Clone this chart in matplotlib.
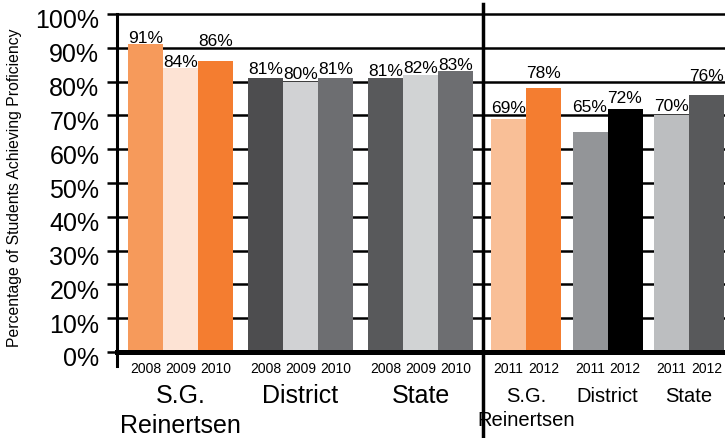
import matplotlib
matplotlib.use("Agg")
import matplotlib.pyplot as plt
from matplotlib.lines import Line2D
from matplotlib.transforms import ScaledTranslation

plt.rcParams['font.family'] = ['Liberation Sans', 'DejaVu Sans']

# ---------------- data ----------------
groups = ["S.G.\nReinertsen", "District", "State"]
years_left = ["2008", "2009", "2010"]
sg_left = [91, 84, 86]
district_left = [81, 80, 81]
state_left = [81, 82, 83]

years_right = ["2011", "2012"]
sg_right = [69, 78]
district_right = [65, 72]
state_right = [70, 76]

yticks = [0, 10, 20, 30, 40, 50, 60, 70, 80, 90, 100]
ytick_labels = ["0%", "10%", "20%", "30%", "40%", "50%", "60%", "70%", "80%", "90%", "100%"]
ylabel = "Percentage of Students Achieving Proficiency"

# ---------------- styles ----------------
colors_left = [["#F69A5B", "#FDE3D4", "#F47D30"],
               ["#4D4D4F", "#D1D2D4", "#6D6E71"],
               ["#58595B", "#D1D3D4", "#6D6E71"]]
colors_right = [["#F9BF97", "#F47D30"],
                ["#939598", "#000000"],
                ["#BCBEC0", "#58595B"]]
# label offsets above bar tops (pixels)
off_left = [[2, 2, 16], [5, 4, 5], [3, 3, 2]]
off_right = [[7, 11], [21, 7], [5, 15]]

W, H = 725, 439
fig = plt.figure(figsize=(W / 100, H / 100), dpi=100)

y0_px, y100_px = 353, 15
ax_bottom = (H - y0_px) / H
ax_height = (y0_px - y100_px) / H
unit = 35.0  # px per bar width

axL = fig.add_axes([117 / W, ax_bottom, (483 - 117) / W, ax_height])
axR = fig.add_axes([483 / W, ax_bottom, (W - 483) / W, ax_height])

axL.set_xlim(0, (483 - 117) / unit)
axR.set_xlim(0, (W - 483) / unit)
for ax in (axL, axR):
    ax.set_ylim(0, 100)
    for s in ax.spines.values():
        s.set_visible(False)
    for t in yticks[1:]:
        ax.axhline(t, color="black", lw=1.8, zorder=0, clip_on=False)
    ax.axhline(0, color="black", lw=3.6, zorder=3, clip_on=False)
    ax.set_xticks([])
    ax.patch.set_alpha(0)

axL.set_yticks(yticks)
axL.set_yticklabels(ytick_labels, fontsize=18)
axL.tick_params(axis="y", length=7.2, width=1.8, pad=5.5, direction="out", color="black")
shift = ScaledTranslation(0, -4 / 100, fig.dpi_scale_trans)
for lab in axL.get_yticklabels():
    lab.set_transform(lab.get_transform() + shift)
axR.set_yticks([])

def draw_panel(ax, data, years, colors, offs, start, spacing, group_fs, group_top_px, lsp):
    for g, vals in enumerate(data):
        xs = []
        for i, v in enumerate(vals):
            x = start + g * spacing + i + 0.5
            xs.append(x)
            ax.bar(x, v, width=1.0, color=colors[g][i], zorder=2, linewidth=0)
            ax.annotate(f"{v}%", xy=(x, v), xytext=(0, offs[g][i]), textcoords="offset pixels",
                        ha="center", va="baseline", fontsize=12.5, zorder=4)
            ax.annotate(years[i], xy=(x, H - 373), xycoords=("data", "figure pixels"),
                        ha="center", va="baseline", fontsize=10, annotation_clip=False)
        cx = sum(xs) / len(xs)
        ax.annotate(groups[g], xy=(cx, H - group_top_px), xycoords=("data", "figure pixels"),
                    ha="center", va="top", fontsize=group_fs, linespacing=lsp,
                    multialignment="center", annotation_clip=False)

draw_panel(axL, [sg_left, district_left, state_left], years_left, colors_left, off_left,
           11 / unit, 120 / unit, 18, 384, 1.33)
draw_panel(axR, [sg_right, district_right, state_right], years_right, colors_right, off_right,
           8 / unit, 81.5 / unit, 14.5, 387, 1.32)

# left axis line (extends below baseline) and divider
fig.add_artist(Line2D([117 / W, 117 / W], [(H - 367) / H, (H - 15) / H],
                      transform=fig.transFigure, color="black", lw=2.2))
fig.add_artist(Line2D([482.5 / W, 482.5 / W], [0, (H - 5) / H],
                      transform=fig.transFigure, color="black", lw=2.5))

fig.text(15 / W, (H - 188) / H, ylabel, rotation=90, ha="center", va="center", fontsize=11.3)

fig.savefig("out.png", dpi=100)
